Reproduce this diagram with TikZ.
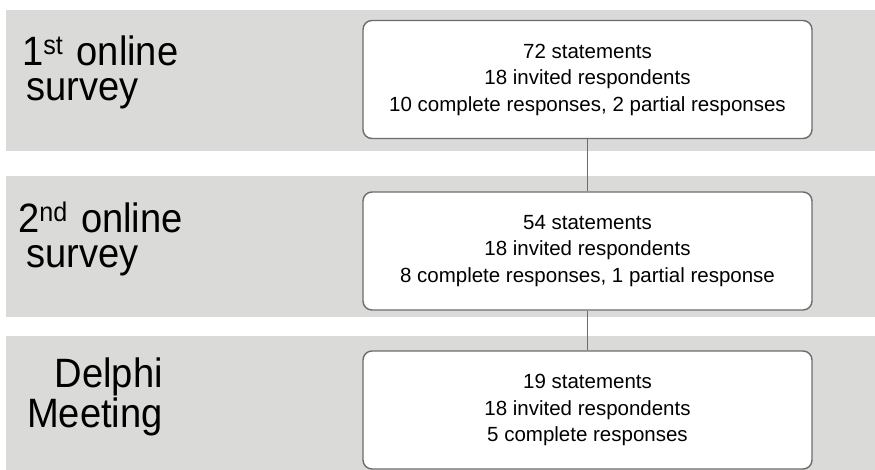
\documentclass[tikz,border=0pt]{standalone}
\usepackage{fontspec}
\setmainfont{Liberation Sans}
\newfontfamily\phasefont{Liberation Sans}[FakeStretch=0.93]
\usetikzlibrary{positioning}
\definecolor{bandgrey}{RGB}{218,219,217}
\definecolor{edgegrey}{RGB}{108,108,108}
\newcommand\ordsup[1]{\raisebox{11pt}{\fontsize{27}{27}\selectfont #1}}
\tikzset{%
  band/.style={fill=bandgrey},
  stage/.style={draw=edgegrey,line width=1.4pt,fill=white,rounded corners=9pt,minimum width=449pt,minimum height=118pt,align=center,font=\fontsize{20.5}{26.5}\selectfont},
  phase/.style={inner sep=0,font=\phasefont\fontsize{41}{35}\selectfont},
  link/.style={draw=edgegrey,line width=1.4pt}
}

\begin{document}
\begin{tikzpicture}[x=1pt,y=-1pt]
  \useasboundingbox (0,0) rectangle (875,470);
  \fill[band] (6,10) rectangle (875,151);
  \fill[band] (6,176) rectangle (875,317);
  \fill[band] (6,336) rectangle (875,470);
  \path
    (587.5,79.5) node[stage] (s_1) {72 statements\\18 invited respondents\\10 complete responses, 2 partial responses}
    (587.5,251) node[stage] (s_2) {54 statements\\18 invited respondents\\8 complete responses, 1 partial response}
    (587.5,410) node[stage] (s_3) {19 statements\\18 invited respondents\\5 complete responses}
    (22,72) node[phase,anchor=west,align=left] (p_1) {1\ordsup{st}\,\,online\\\hspace*{4pt}survey}
    (18,239) node[phase,anchor=west,align=left] (p_2) {2\ordsup{nd}\,\,online\\\hspace*{8pt}survey}
    (163,397) node[phase,anchor=east,align=right] (p_3) {Delphi\\Meeting};
  \draw[link] (s_1) -- (s_2);
  \draw[link] (s_2) -- (s_3);
\end{tikzpicture}
\end{document}
